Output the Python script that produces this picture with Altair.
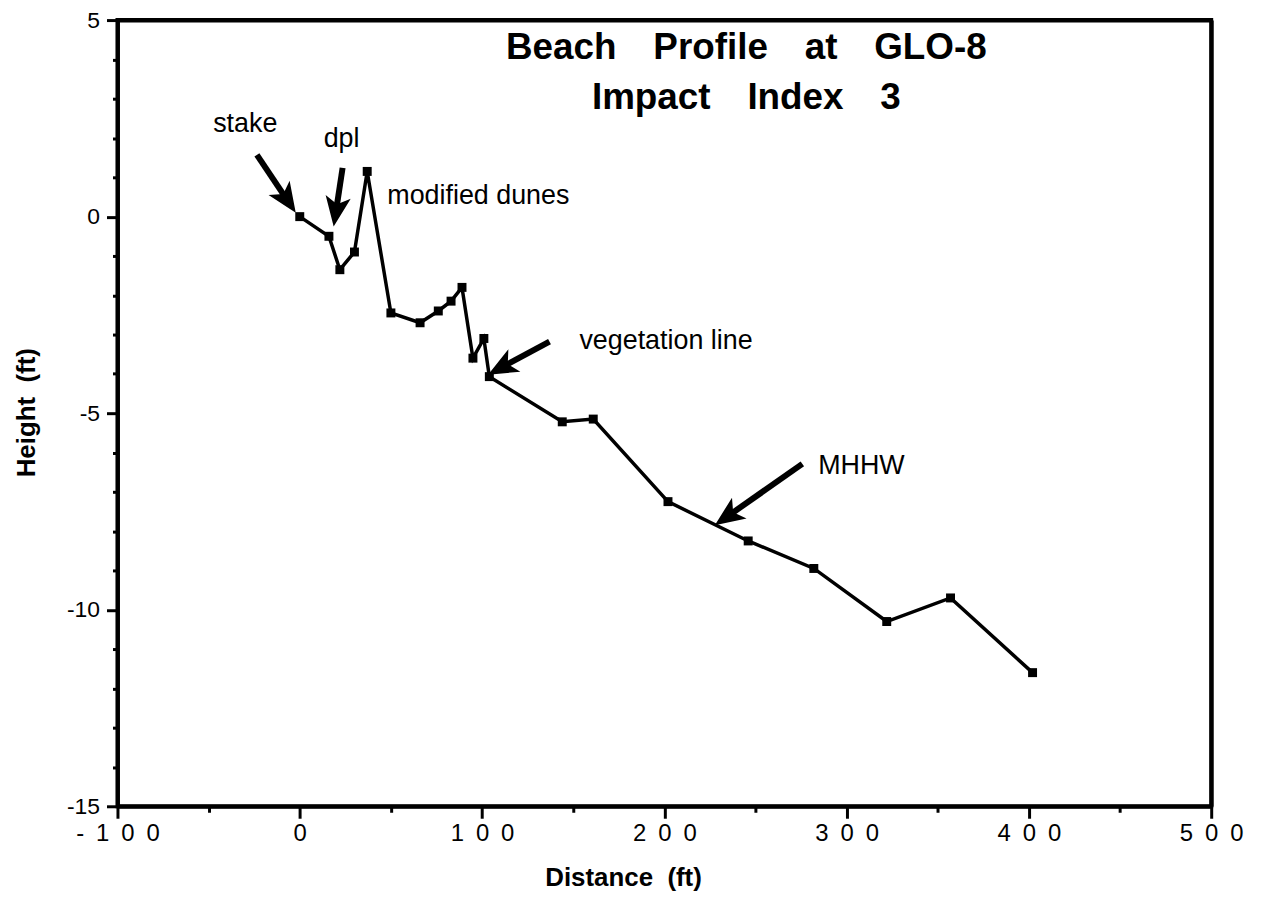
import math
import altair as alt
import pandas as pd

# ---- data ----
dist = [0, 16, 22, 30, 37, 50, 66, 76, 83, 89, 95, 101, 104, 144, 161, 202, 246, 282, 322, 357, 402]
height = [0, -0.5, -1.35, -0.9, 1.15, -2.45, -2.7, -2.4, -2.15, -1.8, -3.6, -3.1, -4.07,
          -5.22, -5.15, -7.25, -8.25, -8.95, -10.3, -9.7, -11.6]

x_major = [-100, 0, 100, 200, 300, 400, 500]
x_minor = [-50, 50, 150, 250, 350, 450]
y_major = [-15, -10, -5, 0, 5]
y_minor = [-14, -13, -12, -11, -9, -8, -7, -6, -4, -3, -2, -1, 1, 2, 3, 4]

title_lines = ["Beach\u2002\u2002Profile\u2002\u2002at\u2002\u2002GLO-8", "Impact\u2002\u2002Index\u2002\u20023"]
title_x = [245, 245]
title_y = [4.02, 2.75]

label_text = ["stake", "dpl", "modified dunes", "vegetation line", "MHHW"]
label_x = [-47.5, 13.1, 48.0, 153.4, 284.4]
label_y = [2.15, 1.77, 0.33, -3.36, -6.54]

arrow_tail_x = [-23.5, 23.5, 137.0, 275.7]
arrow_tail_y = [1.57, 1.24, -3.18, -6.29]
arrow_tip_x = [-2.2, 18.6, 103.3, 227.7]
arrow_tip_y = [0.10, -0.25, -4.02, -7.85]

# ---- layout ----
W, H = 1099, 790
XD = [-100, 500]
YD = [-15, 5]
FONT = "Liberation Sans"
LW = 4

sx = W / (XD[1] - XD[0])
sy = H / (YD[1] - YD[0])

rows = []
for tx, ty, hx, hy in zip(arrow_tail_x, arrow_tail_y, arrow_tip_x, arrow_tip_y):
    dxp = (hx - tx) * sx
    dyp = -(hy - ty) * sy
    L = math.hypot(dxp, dyp)
    ux, uy = dxp / L, dyp / L
    ang = math.degrees(math.atan2(dxp, -dyp)) % 360
    back = 18
    ex = hx - ux * back / sx
    ey = hy + uy * back / sy
    rows.append(dict(x=tx, y=ty, x2=ex, y2=ey, tipx=hx, tipy=hy, angle=ang))
arrows = pd.DataFrame(rows)

profile = pd.DataFrame({"dist": dist, "height": height, "order": list(range(len(dist)))})
labels = pd.DataFrame({"x": label_x, "y": label_y, "text": label_text})
titles = pd.DataFrame({"x": title_x, "y": title_y, "text": title_lines})

xs = alt.Scale(domain=XD, nice=False, zero=False)
ys = alt.Scale(domain=YD, nice=False, zero=False)

x_axis_major = alt.Axis(
    orient="bottom", values=x_major, grid=False, tickSize=12, tickWidth=3, tickColor="black",
    domainWidth=LW, domainColor="black", labelFont=FONT, labelFontSize=24, labelColor="black",
    labelPadding=3, labelFlush=False, labelOverlap=False, format="d",
    labelExpr="join(split(replace(datum.label, '\u2212', '-'), ''), '\u2002')",
    title="Distance\u00a0\u00a0(ft)", titleFont=FONT, titleFontSize=26, titleFontWeight="bold",
    titleColor="black", titleX=508, titleY=80, titleBaseline="alphabetic", titleAlign="center",
)
x_axis_minor = alt.Axis(
    orient="bottom", values=x_minor, grid=False, tickSize=6, tickWidth=3, tickColor="black",
    domain=False, labels=False, title=None,
)
x_axis_top = alt.Axis(
    orient="top", values=[], grid=False, ticks=False, labels=False, title=None,
    domainWidth=LW, domainColor="black",
)
y_axis_major = alt.Axis(
    orient="left", values=y_major, grid=False, tickSize=11, tickWidth=3, tickColor="black",
    domainWidth=LW, domainColor="black", labelFont=FONT, labelFontSize=23, labelColor="black",
    labelPadding=7, labelFlush=False, labelOverlap=False, format="d",
    labelExpr="replace(datum.label, '\u2212', '-')",
    title="Height\u00a0\u00a0(ft)", titleFont=FONT, titleFontSize=26, titleFontWeight="bold",
    titleColor="black", titleX=-91, titleY=394, titleAngle=270, titleBaseline="middle",
    titleAlign="center",
)
y_axis_minor = alt.Axis(
    orient="left", values=y_minor, grid=False, tickSize=5, tickWidth=3, tickColor="black",
    domain=False, labels=False, title=None,
)
y_axis_right = alt.Axis(
    orient="right", values=[], grid=False, ticks=False, labels=False, title=None,
    domainWidth=LW, domainColor="black",
)

line = alt.Chart(profile).mark_line(color="black", strokeWidth=3.5).encode(
    x=alt.X("dist:Q", scale=xs, axis=x_axis_major),
    y=alt.Y("height:Q", scale=ys, axis=y_axis_major),
    order="order:Q",
)
points = alt.Chart(profile).mark_point(
    shape="square", filled=True, size=81, color="black", opacity=1
).encode(
    x=alt.X("dist:Q", scale=xs, axis=x_axis_minor),
    y=alt.Y("height:Q", scale=ys, axis=y_axis_minor),
)

shafts = alt.Chart(arrows).mark_rule(color="black", strokeWidth=6, strokeCap="butt").encode(
    x=alt.X("x:Q", scale=xs, axis=x_axis_top), y=alt.Y("y:Q", scale=ys, axis=y_axis_right),
    x2="x2:Q", y2="y2:Q",
)
heads = alt.Chart(arrows).mark_point(
    shape="M0,0 L0.85,2 L0,1.5 L-0.85,2 Z", filled=True, size=900, color="black",
    opacity=1, strokeWidth=0,
).encode(
    x=alt.X("tipx:Q", scale=xs, axis=None), y=alt.Y("tipy:Q", scale=ys, axis=None),
    angle=alt.Angle("angle:Q", scale=None),
)

ann = alt.Chart(labels).mark_text(
    font=FONT, fontSize=27, color="black", align="left", baseline="alphabetic"
).encode(
    x=alt.X("x:Q", scale=xs, axis=None), y=alt.Y("y:Q", scale=ys, axis=None), text="text:N",
)
ttl = alt.Chart(titles).mark_text(
    font=FONT, fontSize=37, fontWeight="bold", color="black", align="center", baseline="alphabetic"
).encode(
    x=alt.X("x:Q", scale=xs, axis=None), y=alt.Y("y:Q", scale=ys, axis=None), text="text:N",
)

chart = alt.layer(line, points, shafts, heads, ann, ttl).resolve_axis(
    x="independent", y="independent"
).properties(
    width=W, height=H,
    autosize=alt.AutoSizeParams(type="none"),
    padding={"left": 110, "top": 10, "right": 42, "bottom": 86},
    background="white",
).configure_view(stroke="black", strokeWidth=LW)

chart.save("out.html", embed_options={"renderer": "svg", "actions": False})
